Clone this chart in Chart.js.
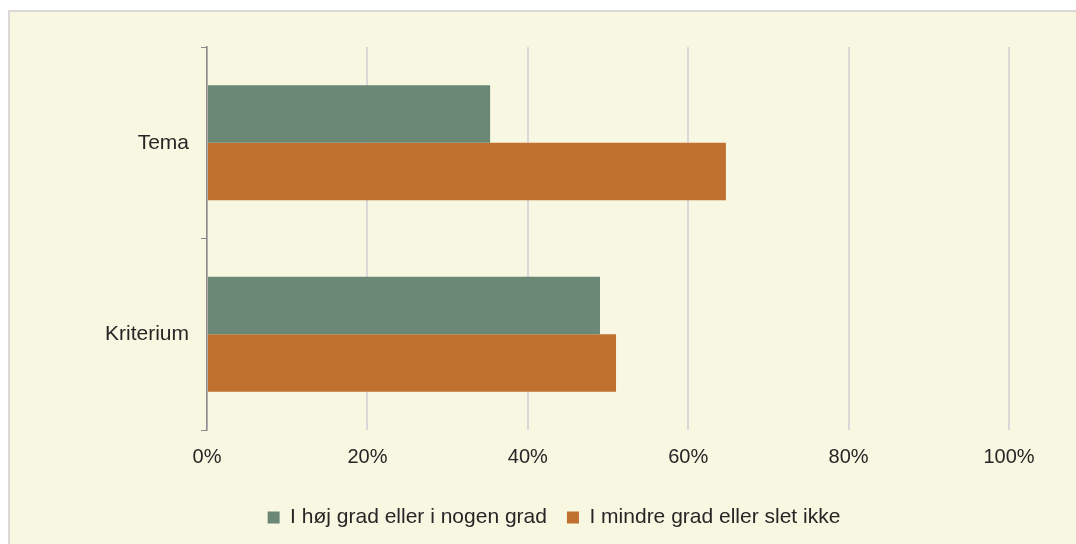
<!DOCTYPE html>
<html>
<head>
<meta charset="utf-8">
<script src="https://cdn.jsdelivr.net/npm/chart.js@4"></script>
<style>
  html, body { margin: 0; padding: 0; background: #ffffff; overflow: hidden; }
  #card {
    position: absolute; left: 8px; top: 10px;
    width: 1088px; height: 532px;
    border: 2px solid #d9d9d9;
    background: #f8f7e1;
  }
  #chart { display: block; }
</style>
</head>
<body>
<div id="card"><canvas id="chart" width="1088" height="532"></canvas></div>
<script>
// categories and series (share, %)
const categories = ['Tema', 'Kriterium'];
const seriesNames = ['I høj grad eller i nogen grad', 'I mindre grad eller slet ikke'];
const hoejGrad = [35.3, 49.0];
const mindreGrad = [64.7, 51.0];
const xTicks = [0, 20, 40, 60, 80, 100];

const FONT = 'Liberation Sans, Arial, sans-serif';
const TEXT = '#262626';

new Chart(document.getElementById('chart'), {
  type: 'bar',
  data: {
    labels: categories,
    datasets: [{
      label: seriesNames[0],
      data: hoejGrad,
      backgroundColor: '#6b8776',
      borderWidth: 0
    }, {
      label: seriesNames[1],
      data: mindreGrad,
      backgroundColor: '#c0702f',
      borderWidth: 0
    }]
  },
  options: {
    indexAxis: 'y',
    responsive: false,
    animation: false,
    categoryPercentage: 0.6,
    barPercentage: 1.0,
    layout: { padding: { top: 35, right: 0, left: 0, bottom: 6 } },
    plugins: {
      tooltip: { enabled: false },
      legend: {
        position: 'bottom',
        labels: {
          color: TEXT,
          font: { family: FONT, size: 21 },
          boxWidth: 12,
          boxHeight: 12,
          padding: 20
        }
      }
    },
    scales: {
      x: {
        min: 0,
        max: 100,
        afterBuildTicks: s => { s.ticks = xTicks.map(v => ({ value: v })); },
        afterFit: s => { s.height = 57; },
        grid: { color: '#d9d9d9', lineWidth: 2, drawTicks: false },
        border: { display: false },
        ticks: {
          color: TEXT,
          font: { family: FONT, size: 20 },
          padding: 15,
          callback: v => v + '%'
        }
      },
      y: {
        afterFit: s => { s.width = 197; },
        grid: {
          offset: true,
          drawOnChartArea: false,
          color: '#898989',
          tickLength: 6
        },
        border: { display: true, color: '#898989', width: 1.5 },
        ticks: {
          color: TEXT,
          font: { family: FONT, size: 21 },
          padding: 12
        }
      },
      // empty right-hand spacer so the plot ends at 100% with room to spare
      yRight: {
        axis: 'y',
        position: 'right',
        afterFit: s => { s.width = 89; },
        grid: { display: false },
        border: { display: false },
        ticks: { display: false }
      }
    }
  }
});
</script>
</body>
</html>
